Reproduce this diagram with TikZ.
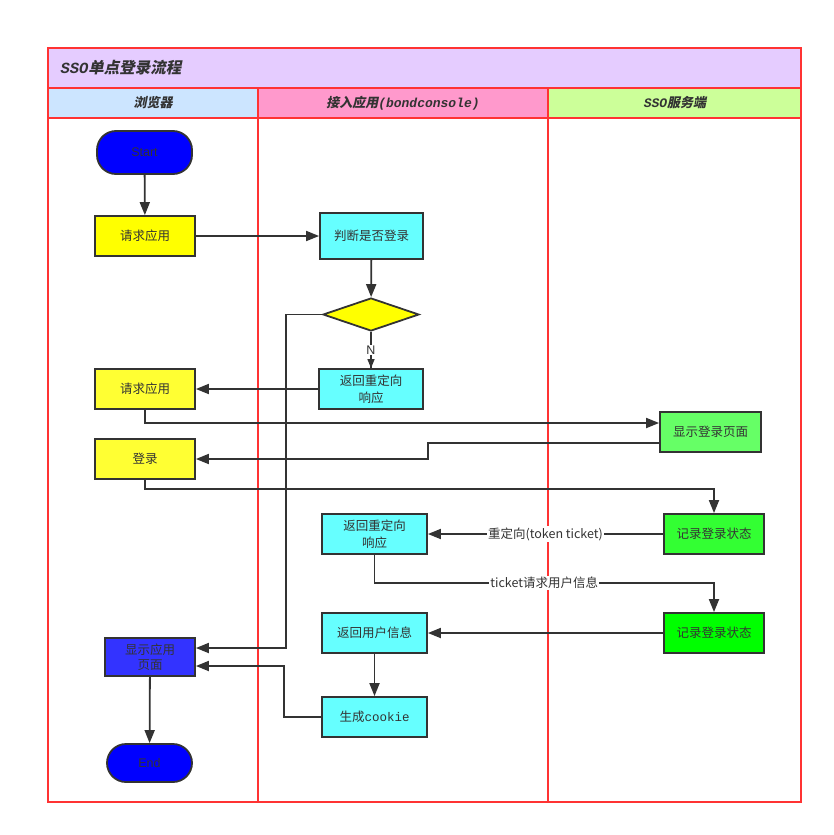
\documentclass[tikz,border=0pt]{standalone}
\usepackage{fontspec}
\setmainfont{Noto Sans CJK SC}
\newfontfamily\latinsans{Liberation Sans}
\newfontfamily\hdrcjk[FakeSlant=0.2]{Noto Sans CJK SC}
\newfontfamily\hdrmono{Liberation Mono}
\usetikzlibrary{arrows.meta,shapes.geometric}
\definecolor{titlefill}{HTML}{E5CCFF}
\definecolor{laneA}{HTML}{CCE5FF}
\definecolor{laneB}{HTML}{FF99CC}
\definecolor{laneC}{HTML}{CCFF99}
\definecolor{lanered}{HTML}{FF3333}
\definecolor{ink}{HTML}{333333}
\definecolor{yelA}{HTML}{FFFF00}
\definecolor{yelB}{HTML}{FFFF33}
\definecolor{cyanA}{HTML}{66FFFF}
\definecolor{grnA}{HTML}{66FF66}
\definecolor{grnB}{HTML}{33FF33}
\definecolor{grnC}{HTML}{00FF00}
\definecolor{bluA}{HTML}{0000FF}
\definecolor{bluB}{HTML}{3333FF}
\tikzset{
  box/.style={draw=ink, line width=1.8pt, rectangle, inner sep=1pt, text=ink, align=center,
    font=\fontsize{12.5}{15}\selectfont},
  pill/.style={box, rounded corners=19pt, font=\latinsans\fontsize{12.5}{15}\selectfont},
  conn/.style={draw=ink, line width=1.8pt, -{Triangle[length=13pt,width=10pt]}},
  plain/.style={draw=ink, line width=1.8pt},
  lbl/.style={fill=white, inner sep=1pt, text=ink, font=\fontsize{12.5}{15}\selectfont},
  lane/.style={draw=lanered, line width=1.8pt},
  hdr/.style={text=ink, font=\hdrcjk\bfseries\fontsize{13}{15}\selectfont}
}
\begin{document}
\begin{tikzpicture}[x=1pt,y=-1pt]
\useasboundingbox (0,0) rectangle (833,835);
% pool and lanes
\fill[titlefill] (48,48) rectangle (801,88);
\fill[laneA] (48,88) rectangle (258,118);
\fill[laneB] (258,88) rectangle (548,118);
\fill[laneC] (548,88) rectangle (801,118);
\draw[lane] (48,48) rectangle (801,802);
\draw[lane] (48,88) -- (801,88);
\draw[lane] (48,118) -- (801,118);
\draw[lane] (258,88) -- (258,802);
\draw[lane] (548,88) -- (548,802);
\node[anchor=west, text=ink, font=\hdrcjk\bfseries\fontsize{15.5}{18}\selectfont] (title) at (57,68) {{\hdrmono\itshape SSO}单点登录流程};
\node[hdr] (h1) at (153,103) {浏览器};
\node[hdr] (h2) at (403,103) {接入应用{\hdrmono\itshape (bondconsole)}};
\node[hdr] (h3) at (675,103) {{\hdrmono\itshape SSO}服务端};
% nodes
\node[pill, fill=bluA, minimum width=95pt, minimum height=43pt] (start) at (144.5,152.5) {Start};
\node[box, fill=yelA, minimum width=100pt, minimum height=40pt] (req1) at (145,236) {请求应用};
\node[box, fill=cyanA, minimum width=103pt, minimum height=46pt] (judge) at (371.5,236) {判断是否登录};
\node[diamond, draw=ink, line width=1.8pt, fill=yelA, minimum width=96pt, minimum height=33pt, inner sep=0pt, aspect=2.9] (dia) at (371,314.5) {};
\node[box, fill=cyanA, minimum width=104pt, minimum height=40pt, font=\fontsize{12.5}{17}\selectfont] (redir1) at (371,389) {返回重定向\\响应};
\node[box, fill=yelB, minimum width=100pt, minimum height=40pt] (req2) at (145,389) {请求应用};
\node[box, fill=grnA, minimum width=101pt, minimum height=40pt] (showlogin) at (710.5,432) {显示登录页面};
\node[box, fill=yelB, minimum width=100pt, minimum height=40pt] (login) at (145,459) {登录};
\node[box, fill=grnB, minimum width=100pt, minimum height=40pt] (rec1) at (714,534) {记录登录状态};
\node[box, fill=cyanA, minimum width=105pt, minimum height=40pt, font=\fontsize{12.5}{17}\selectfont] (redir2) at (374.5,534) {返回重定向\\响应};
\node[box, fill=grnC, minimum width=100pt, minimum height=40pt] (rec2) at (714,633) {记录登录状态};
\node[box, fill=cyanA, minimum width=105pt, minimum height=40pt] (userinfo) at (374.5,633) {返回用户信息};
\node[box, fill=cyanA, minimum width=105pt, minimum height=40pt] (cookie) at (374.5,717) {生成{\hdrmono cookie}};
\node[box, fill=bluB, minimum width=90pt, minimum height=38pt, font=\fontsize{12.5}{15}\selectfont] (showapp) at (150,657) {显示应用\\页面};
\node[pill, fill=bluA, minimum width=85pt, minimum height=38pt] (end) at (149.5,763) {End};
% helper coordinates
\coordinate (c1) at (286,0);
\coordinate (c2) at (428,0);
\coordinate (c3) at (0,489);
\coordinate (c4) at (0,583);
\coordinate (c5) at (284,0);
\coordinate (s1) at ([yshift=9pt]showapp.east);
\coordinate (s2) at ([yshift=-11pt]showlogin.west);
\coordinate (s3) at ([yshift=-9pt]showapp.east);
% connectors
\draw[conn] (start) -- (req1);
\draw[conn] (req1) -- (judge);
\draw[conn] (judge) -- (dia);
\draw[plain] (dia.south) -- node[lbl, pos=0.5, font=\latinsans\fontsize{12.5}{14}\selectfont] (nlbl) {N} (redir1.north);
\draw[draw=ink, line width=1.4pt, -{Triangle[length=9pt,width=7pt]}] ([yshift=-7pt]nlbl.south) -- (redir1.north);
\draw[conn] (dia.west) -- (dia.west -| c1) |- (s1);
\draw[conn] (redir1) -- (req2);
\draw[conn] (req2.south) |- ([yshift=9pt]showlogin.west);
\draw[conn] (s2) -- (s2 -| c2) |- (login.east);
\draw[conn] (login.south) -- (login.south |- c3) -| (rec1.north);
\draw[conn] (rec1) -- node[lbl] {重定向(token ticket)} (redir2);
\draw[conn] (redir2.south) -- (redir2.south |- c4) -| node[lbl, pos=0.25] {ticket请求用户信息} (rec2.north);
\draw[conn] (rec2) -- (userinfo);
\draw[conn] (userinfo) -- (cookie);
\draw[conn] (cookie.west) -- (cookie.west -| c5) |- (s3);
\draw[conn] (showapp) -- (end);
\end{tikzpicture}
\end{document}
